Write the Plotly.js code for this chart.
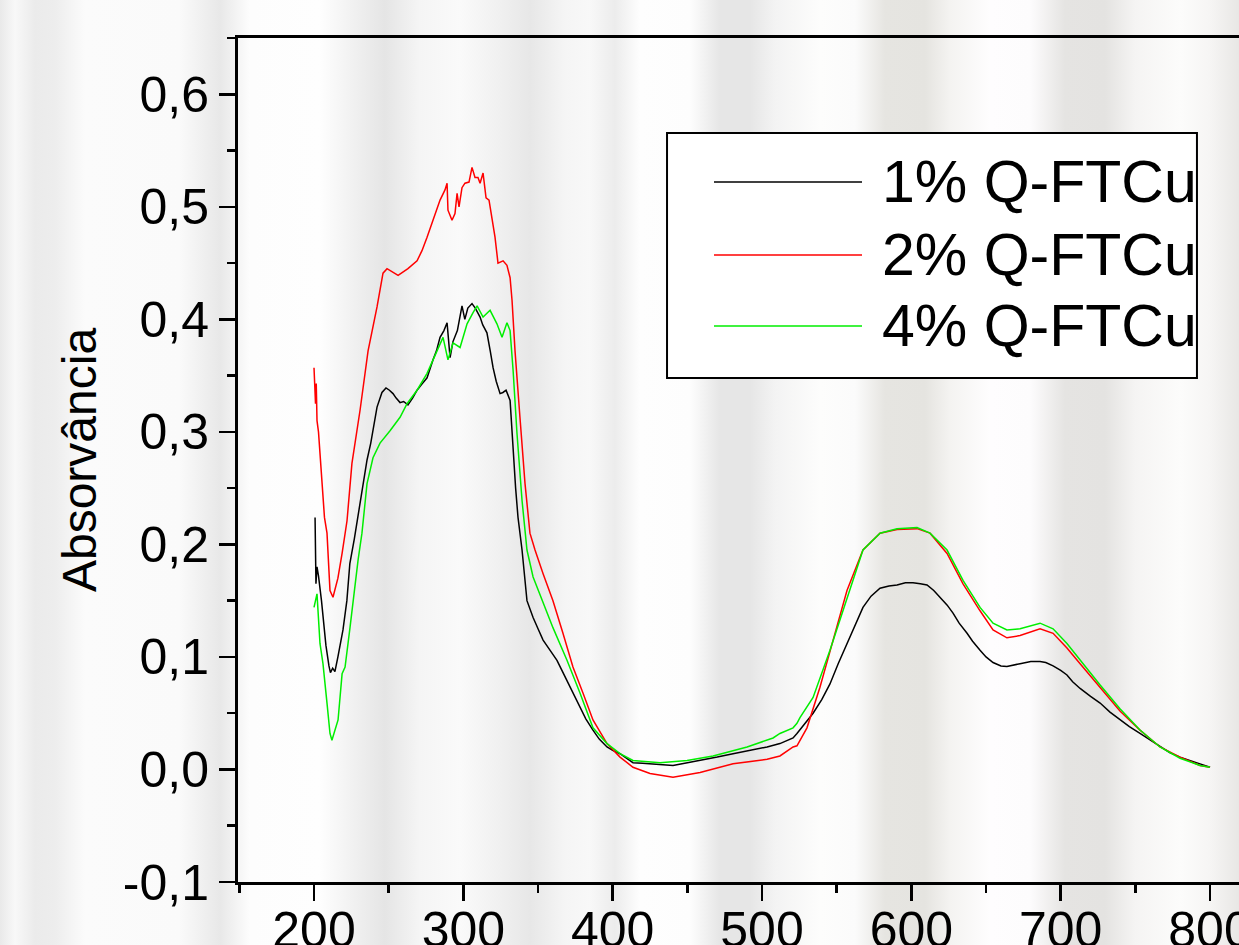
<!DOCTYPE html>
<html>
<head>
<meta charset="utf-8">
<script src="https://cdn.plot.ly/plotly-3.0.1.min.js"></script>
<style>
html,body{margin:0;padding:0;}
body{
  width:1239px;height:945px;overflow:hidden;
  background:linear-gradient(to right,
    #e9e9e9 0px, #f8f8f8 15px, #ebebeb 35px, #ededed 55px, #fbfbfb 85px, #fafafa 180px,
    #e8e8e8 220px, #fdfdfd 250px, #fefefe 320px, #f0f0f0 355px, #e5e5e5 385px, #f5f5f5 420px,
    #fafafa 460px, #f0f0f0 500px, #e7e7e7 530px, #f5f5f5 565px, #f8f8f8 590px, #ececec 615px,
    #fefefe 640px, #fdfdfd 690px, #e6e6e6 720px, #e6e6e6 750px, #f3f3f3 775px, #fdfdfc 820px,
    #fbfbfb 855px, #e6e5e1 885px, #e5e4e0 925px, #f4f3f1 950px, #fefdfe 990px, #fdfcfd 1030px,
    #e5e4e2 1065px, #e4e3e1 1105px, #f5f4f3 1135px, #fcfcfb 1180px, #f6f5f4 1210px, #e8e7e5 1239px);
}
#chart{width:1239px;height:945px;}
</style>
</head>
<body>
<div id="chart"></div>
<script>
// ---- data ----
const seriesNames = ['1% Q-FTCu', '2% Q-FTCu', '4% Q-FTCu'];

const wl1 = [200.7,201.3,202,203,205,206.5,208,210,211,212.5,214,216,219.4,222,224,227,230,232.8,235.5,238,
  242.2,245.5,248.2,250.5,252.9,255,257.6,260,262.9,266,269,272,275.7,279.7,282,284.4,287,289.1,291.1,293,
  296,299.1,301,303,305.8,308,311.2,313,315.8,318,319.9,322,324.6,326.5,328.6,331.3,333.3,335,336.6,339.3,
  342.6,346.7,350,353.4,358,362.7,366,369.4,374,378.1,382,386.8,391,396.2,400,404.9,410,413.6,420,425,
  432,440.4,450,458.5,470,480.6,492,503.4,512,520.8,523.4,528,534.2,540,545.5,551,556.9,562,567.6,573,
  579,585,590.4,596,601.1,606,610.5,615,619.2,624,627.9,632,637.3,641,646,650,654.7,660,664,668,
  672.8,680,686.2,690,694.9,700,704.2,708,713,720,726.4,733,739.7,746,753.1,760,766.5,773,779.9,786,793.3,800];
const abs1 = [0.224,0.165,0.18,0.172,0.15,0.13,0.11,0.092,0.086,0.09,0.087,0.10,0.124,0.15,0.183,0.205,0.23,0.254,0.275,0.29,
  0.322,0.335,0.339,0.337,0.334,0.33,0.326,0.327,0.324,0.33,0.337,0.342,0.348,0.364,0.372,0.384,0.39,0.397,0.366,0.38,
  0.39,0.412,0.40,0.41,0.414,0.41,0.402,0.395,0.388,0.372,0.357,0.345,0.334,0.335,0.337,0.328,0.284,0.25,0.224,0.195,
  0.15,0.135,0.125,0.115,0.106,0.097,0.088,0.079,0.067,0.055,0.045,0.035,0.027,0.02,0.017,0.014,0.009,0.006,0.0055,0.005,
  0.004,0.0035,0.006,0.008,0.011,0.014,0.017,0.02,0.023,0.028,0.032,0.04,0.05,0.062,0.076,0.094,0.112,0.128,0.144,0.154,
  0.161,0.163,0.164,0.166,0.166,0.165,0.164,0.159,0.153,0.146,0.139,0.13,0.121,0.114,0.106,0.1,0.095,0.092,0.0916,0.093,
  0.094,0.096,0.096,0.095,0.092,0.088,0.084,0.078,0.072,0.065,0.059,0.051,0.044,0.038,0.032,0.026,0.02,0.015,0.011,0.008,0.005,0.002];

const wl2 = [200,201,201.5,202,203,204.3,205,207,208.7,209.4,210.7,212.7,216,218.8,222.1,225.4,230.8,236.2,242.2,246.2,
  248.9,256.3,262.9,269,272.3,275.7,279.7,284.4,287.7,289.1,289.7,292.4,294.4,295.8,297.1,299.1,301.1,303.8,305.8,307.8,
  309.8,311.2,313.2,315.2,317.2,319.2,321.2,323.2,326.6,329.2,331.3,332.6,334.6,337.9,341.3,344.6,348,353.4,360,366.7,
  373.4,380.1,386.8,396.2,404.9,413.6,425,440.4,458.5,480.6,503.4,512,520.8,523.4,530.1,538.8,547.6,556.9,567.6,579,
  590.4,603.8,612.5,623.9,634.6,646,654.7,664,672.8,686.2,694.9,704.2,713,726.4,739.7,753.1,766.5,779.9,793.3,800];
const abs2 = [0.357,0.325,0.343,0.31,0.30,0.272,0.257,0.224,0.21,0.195,0.159,0.153,0.17,0.192,0.221,0.272,0.319,0.372,0.411,0.441,
  0.445,0.439,0.445,0.452,0.461,0.473,0.488,0.506,0.515,0.521,0.497,0.488,0.494,0.512,0.5,0.517,0.521,0.522,0.535,0.526,
  0.526,0.521,0.53,0.508,0.506,0.491,0.473,0.45,0.452,0.448,0.437,0.417,0.372,0.313,0.254,0.21,0.195,0.174,0.15,0.121,
  0.091,0.068,0.044,0.023,0.011,0.002,-0.0036,-0.007,-0.0027,0.005,0.009,0.012,0.02,0.021,0.037,0.073,0.115,0.159,0.195,0.21,
  0.2133,0.214,0.21,0.192,0.165,0.141,0.124,0.117,0.119,0.125,0.121,0.108,0.094,0.073,0.052,0.035,0.02,0.011,0.0036,0.002];

const wl3 = [200,202,204,206,208.7,210.7,212,214.1,216.1,218.8,220.8,224.1,227.5,229.5,232.1,235.5,239.5,244.2,250.9,257.6,
  262.3,269,275.7,282.4,286.4,289.7,293.1,297.8,302.5,306.5,309.2,313.2,317.9,322.5,325.9,329.2,331.3,333.3,335.9,339.3,
  342.6,346.7,353.4,360,369.4,378.1,386.8,396.2,404.9,413.6,431.7,449.8,467.2,490,507.4,512,520.8,523.4,525.4,534.2,
  545.5,556.9,567.6,579,590.4,603.8,612.5,623.9,634.6,646,654.7,664,672.8,686.2,694.9,704.2,713,726.4,739.7,753.1,
  766.5,779.9,793.3,800];
const abs3 = [0.144,0.156,0.112,0.094,0.059,0.032,0.026,0.035,0.044,0.085,0.091,0.126,0.165,0.186,0.21,0.254,0.277,0.29,0.301,0.313,
  0.325,0.337,0.352,0.372,0.384,0.364,0.379,0.375,0.396,0.406,0.412,0.402,0.408,0.396,0.384,0.397,0.39,0.355,0.299,0.239,
  0.195,0.171,0.148,0.126,0.097,0.068,0.037,0.023,0.014,0.008,0.006,0.008,0.012,0.02,0.028,0.032,0.037,0.041,0.046,0.064,
  0.106,0.153,0.195,0.21,0.214,0.215,0.21,0.195,0.168,0.144,0.13,0.124,0.125,0.13,0.125,0.112,0.097,0.075,0.054,0.035,
  0.02,0.01,0.0036,0.002];

const xTickVals = [200,300,400,500,600,700,800];
const xTickText = ['200','300','400','500','600','700','800'];
const yTickVals = [-0.1,0,0.1,0.2,0.3,0.4,0.5,0.6];
const yTickText = ['-0,1','0,0','0,1','0,2','0,3','0,4','0,5','0,6'];
const colors = ['#000000','#ff0000','#00ee00'];

// ---- chart ----
const FONT = '"Liberation Sans", Arial, sans-serif';
const traces = [[wl1,abs1],[wl2,abs2],[wl3,abs3]].map((d,i)=>({
  x:d[0], y:d[1], type:'scatter', mode:'lines', name:seriesNames[i],
  line:{color:colors[i], width:1.5}, showlegend:false
}));

// manual legend (long line samples as in the reference)
const legX0 = 0.4286, legX1 = 0.958, legY0 = 0.5972, legY1 = 0.8874;
const rowY = [0.8294, 0.7429, 0.6588];
const shapes = [{type:'rect', xref:'paper', yref:'paper', x0:legX0, x1:legX1, y0:legY0, y1:legY1,
  line:{color:'#000', width:2}, fillcolor:'#ffffff', layer:'above'}];
const annotations = [];
seriesNames.forEach((n,i)=>{
  shapes.push({type:'line', xref:'paper', yref:'paper', x0:0.4755, x1:0.6234, y0:rowY[i], y1:rowY[i],
    line:{color:colors[i], width:1.5}, layer:'above'});
  annotations.push({xref:'paper', yref:'paper', x:0.6414, y:rowY[i], xanchor:'left', yanchor:'middle',
    text:n, showarrow:false, font:{family:FONT, size:59, color:'#000'}});
});

const layout = {
  width:1239, height:945,
  margin:{l:238, r:0, t:38, b:63},
  paper_bgcolor:'rgba(0,0,0,0)', plot_bgcolor:'rgba(0,0,0,0)',
  font:{family:FONT, color:'#000'},
  xaxis:{
    range:[149.1, 819.4], showgrid:false, zeroline:false,
    showline:true, linecolor:'#000', linewidth:3, mirror:true,
    ticks:'outside', ticklen:16, tickwidth:2.5, tickcolor:'#000',
    tickvals:xTickVals, ticktext:xTickText, tickfont:{size:50, family:FONT},
    ticklabeloverflow:'allow', ticklabelstandoff:-14,
    minor:{ticks:'outside', ticklen:8, tickwidth:2.5, tickcolor:'#000', dtick:50, tick0:0, showgrid:false}
  },
  yaxis:{
    range:[-0.1, 0.65], showgrid:false, zeroline:false,
    showline:true, linecolor:'#000', linewidth:3, mirror:false,
    ticks:'outside', ticklen:16, tickwidth:2.5, tickcolor:'#000',
    tickvals:yTickVals, ticktext:yTickText, tickfont:{size:50, family:FONT},
    minor:{ticks:'outside', ticklen:8, tickwidth:2.5, tickcolor:'#000', dtick:0.05, tick0:0, showgrid:false},
    title:{text:'Absorvância', font:{size:48, family:FONT}, standoff:12}
  },
  shapes:shapes, annotations:annotations
};
Plotly.newPlot('chart', traces, layout, {displayModeBar:false, staticPlot:true});
</script>
</body>
</html>
